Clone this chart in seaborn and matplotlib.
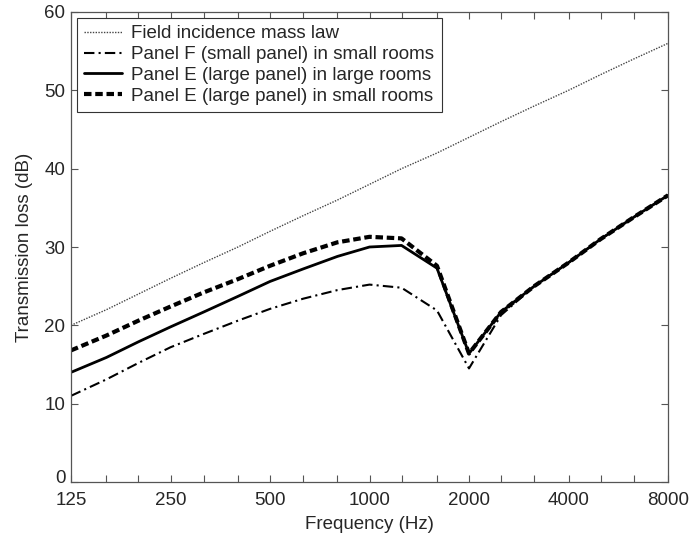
import matplotlib
matplotlib.use("Agg")
import matplotlib.pyplot as plt
import matplotlib.ticker as mticker
import matplotlib.transforms as mtrans
import seaborn as sns

# ---- data ----
freqs = [125, 160, 200, 250, 315, 400, 500, 630, 800, 1000, 1250, 1600,
         2000, 2500, 3150, 4000, 5000, 6300, 8000]
mass_law = [20, 22, 24, 26, 28, 30, 32, 34, 36, 38, 40, 42,
            44, 46, 48, 50, 52, 54, 56]
panel_f_small = [11.0, 13.1, 15.2, 17.2, 18.9, 20.6, 22.1, 23.4, 24.5, 25.2, 24.8, 21.9,
                 14.5, 21.3, 25.0, 28.0, 31.0, 33.8, 36.6]
panel_e_large = [14.0, 15.9, 17.9, 19.8, 21.7, 23.7, 25.6, 27.2, 28.8, 30.0, 30.2, 27.3,
                 16.4, 21.7, 25.0, 28.0, 31.0, 33.8, 36.6]
panel_e_small = [16.8, 18.7, 20.6, 22.4, 24.2, 25.9, 27.6, 29.2, 30.6, 31.3, 31.1, 27.6,
                 16.4, 21.7, 25.0, 28.0, 31.0, 33.8, 36.6]
labels = ["Field incidence mass law",
          "Panel F (small panel) in small rooms",
          "Panel E (large panel) in large rooms",
          "Panel E (large panel) in small rooms"]
octave_ticks = [125, 250, 500, 1000, 2000, 4000, 8000]
y_ticks = [0, 10, 20, 30, 40, 50, 60]

sns.set_style("ticks")
plt.rcParams['font.family'] = ['Liberation Sans', 'DejaVu Sans']

fig = plt.figure(figsize=(6.9, 5.4), dpi=100)
ax = fig.add_axes([71/690, 1-482/540, 597/690, 470/540])

sns.lineplot(x=freqs, y=mass_law, ax=ax, color="#444444", lw=1.0)
ax.lines[-1].set_linestyle((0, (1, 1)))
sns.lineplot(x=freqs, y=panel_f_small, ax=ax, color="black", lw=1.5)
ax.lines[-1].set_linestyle((0, (5, 2, 1, 2)))
sns.lineplot(x=freqs, y=panel_e_large, ax=ax, color="black", lw=2.0)
sns.lineplot(x=freqs, y=panel_e_small, ax=ax, color="black", lw=3.0)
ax.lines[-1].set_linestyle((0, (1.8, 0.9)))

ax.set_xscale("log")
ax.set_xlim(125, 8000)
ax.set_ylim(0, 60)
ax.xaxis.set_major_locator(mticker.FixedLocator(octave_ticks))
ax.xaxis.set_major_formatter(mticker.FixedFormatter([str(t) for t in octave_ticks]))
ax.xaxis.set_minor_locator(mticker.FixedLocator([f for f in freqs if f not in octave_ticks]))
ax.xaxis.set_minor_formatter(mticker.NullFormatter())
ax.set_yticks(y_ticks)

ax.tick_params(which="both", direction="in", top=True, right=True,
               length=5, width=0.8, color="#555555", labelsize=13.5)
ax.tick_params(axis="x", which="both", pad=7)
ax.tick_params(axis="y", which="both", pad=4)
for s in ax.spines.values():
    s.set_visible(True)
    s.set_color("#555555")
    s.set_linewidth(0.9)

ax.set_xlabel("Frequency (Hz)", fontsize=13.5, labelpad=5)
ax.set_ylabel("Transmission loss (dB)", fontsize=13.5, labelpad=8)

leg = ax.legend(ax.lines[:4], labels, loc="upper left", fontsize=13.5,
                frameon=True, fancybox=False, framealpha=1, edgecolor="#333333",
                handlelength=2.0, handletextpad=0.5, borderpad=0.4,
                labelspacing=0.2, borderaxespad=0.3)
leg.get_frame().set_linewidth(0.8)

# nudge the "0" y tick label up slightly so it sits above the "125" label
fig.canvas.draw()
zero_label = ax.yaxis.get_major_ticks()[0].label1
zero_label.set_transform(zero_label.get_transform() +
                         mtrans.ScaledTranslation(0, 4/72, fig.dpi_scale_trans))

fig.savefig("out.png", dpi=100)
